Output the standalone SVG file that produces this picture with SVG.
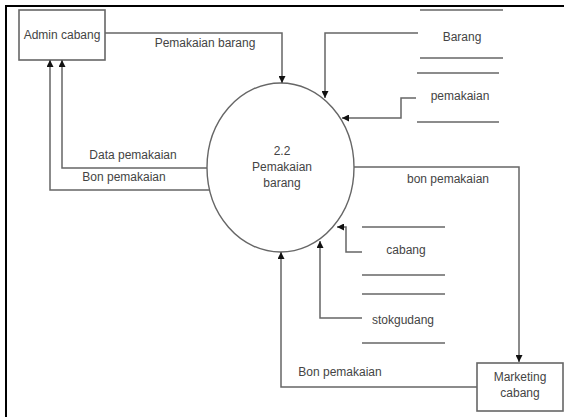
<svg xmlns="http://www.w3.org/2000/svg" width="564" height="417" viewBox="0 0 564 417">
  <style>
    .frame { stroke: #000; stroke-width: 2; fill: none; }
    .box { fill: #fff; stroke: #666; stroke-width: 1.6; }
    .proc { fill: #fff; stroke: #666; stroke-width: 1.4; }
    .store { stroke: #666; stroke-width: 1.6; fill: none; }
    .flow { stroke: #666; stroke-width: 1.5; fill: none; marker-end: url(#arrow); }
    text { font-family: "Liberation Sans", Arial, sans-serif; font-size: 12px; fill: #444; text-anchor: middle; }
  </style>
  <defs>
    <marker id="arrow" viewBox="0 0 10 10" refX="10" refY="5" markerWidth="7" markerHeight="7" markerUnits="userSpaceOnUse" orient="auto">
      <path d="M0,0 L10,5 L0,10 Z" fill="#111"/>
    </marker>
  </defs>

  <!-- page frame -->
  <path class="frame" d="M6,417 V6 H564"/>

  <!-- external entity: Admin cabang -->
  <g id="admin-cabang">
    <rect class="box" x="19" y="10" width="86" height="50"/>
    <text x="62" y="39">Admin cabang</text>
  </g>

  <!-- process 2.2 -->
  <g id="proses-2-2">
    <ellipse class="proc" cx="280.5" cy="167.5" rx="73.5" ry="84.5"/>
    <text x="282" y="155">2.2</text>
    <text x="282" y="171">Pemakaian</text>
    <text x="282" y="187">barang</text>
  </g>

  <!-- data stores -->
  <g id="ds-barang">
    <line class="store" x1="420" y1="10" x2="503" y2="10"/>
    <line class="store" x1="420" y1="58" x2="503" y2="58"/>
    <text x="462" y="41">Barang</text>
  </g>
  <g id="ds-pemakaian">
    <line class="store" x1="417" y1="73" x2="499" y2="73"/>
    <line class="store" x1="417" y1="122" x2="499" y2="122"/>
    <text x="460" y="100">pemakaian</text>
  </g>
  <g id="ds-cabang">
    <line class="store" x1="362" y1="227" x2="445" y2="227"/>
    <line class="store" x1="362" y1="275" x2="445" y2="275"/>
    <text x="406" y="254">cabang</text>
  </g>
  <g id="ds-stokgudang">
    <line class="store" x1="362" y1="294" x2="445" y2="294"/>
    <line class="store" x1="362" y1="343" x2="445" y2="343"/>
    <text x="403" y="324">stokgudang</text>
  </g>

  <!-- external entity: Marketing cabang -->
  <g id="marketing-cabang">
    <rect class="box" x="477" y="363" width="86" height="48"/>
    <text x="520" y="381">Marketing</text>
    <text x="520" y="397">cabang</text>
  </g>

  <!-- data flows -->
  <g id="connectors">
    <path class="flow" d="M105,33 H282 V83"/>
    <text x="205" y="47">Pemakaian barang</text>

    <path class="flow" d="M207,168 H62 V60"/>
    <text x="133" y="159">Data pemakaian</text>

    <path class="flow" d="M210,190 H50 V60"/>
    <text x="124" y="181">Bon pemakaian</text>

    <path class="flow" d="M418,33 H325 V98"/>
    <path class="flow" d="M416,98 H401 V118 H342"/>

    <path class="flow" d="M354,167 H519 V362"/>
    <text x="448" y="183">bon pemakaian</text>

    <path class="flow" d="M362,252 H346 V227 H337"/>
    <path class="flow" d="M362,318 H320 V241"/>

    <path class="flow" d="M477,387 H281 V252"/>
    <text x="340" y="376">Bon pemakaian</text>
  </g>
</svg>
